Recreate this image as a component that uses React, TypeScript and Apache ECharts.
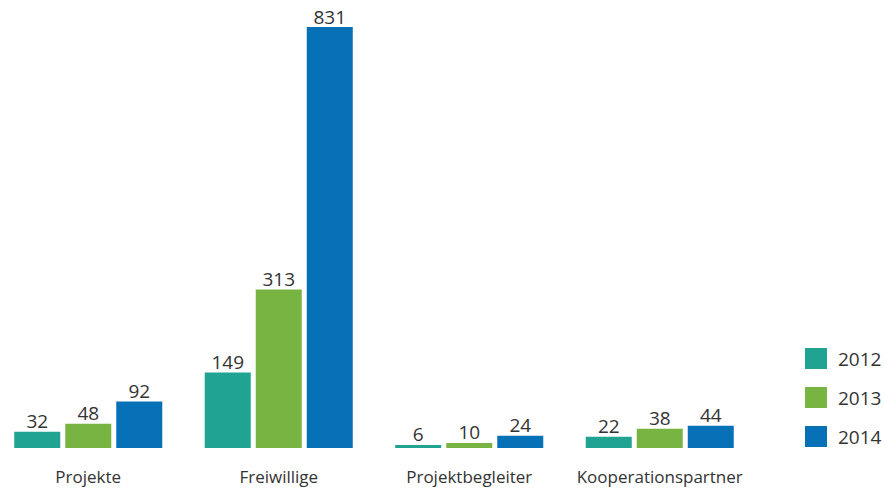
import React, { useEffect, useRef } from "react";
import * as echarts from "echarts";

const categories = ["Projekte", "Freiwillige", "Projektbegleiter", "Kooperationspartner"];
const seriesNames = ["2012", "2013", "2014"];
const values2012 = [32, 149, 6, 22];
const values2013 = [48, 313, 10, 38];
const values2014 = [92, 831, 24, 44];
const colors = ["#21a392", "#78b442", "#0671b6"];

const FONT = "Open Sans";

export default function App() {
  const ref = useRef<HTMLDivElement>(null);
  useEffect(() => {
    if (!ref.current) return;
    const chart = echarts.init(ref.current, null, { renderer: "svg" });
    const data = [values2012, values2013, values2014];
    chart.setOption({
      animation: false,
      textStyle: { fontFamily: FONT },
      grid: { left: 0, right: 130, top: 27, bottom: 42, containLabel: false },
      legend: {
        orient: "vertical",
        left: 812,
        top: 348,
        padding: 0,
        itemWidth: 22,
        itemHeight: 21,
        itemGap: 18,
        icon: "rect",
        data: seriesNames,
        textStyle: {
          fontFamily: FONT,
          fontSize: 19,
          lineHeight: 21,
          color: "#333",
          padding: [0, 0, 0, 6],
        },
      },
      xAxis: {
        type: "category",
        data: categories,
        axisLine: { show: false },
        axisTick: { show: false },
        axisLabel: { fontFamily: FONT, fontSize: 17, color: "#333", margin: 20, interval: 0 },
      },
      yAxis: {
        type: "value",
        min: 0,
        max: 831,
        show: false,
        splitLine: { show: false },
      },
      series: seriesNames.map((name, i) => ({
        name,
        type: "bar",
        data: data[i],
        barWidth: 46,
        barGap: "10.9%",
        itemStyle: { color: colors[i] },
        label: {
          show: true,
          position: "top",
          distance: 1,
          fontFamily: FONT,
          fontSize: 19,
          color: "#333",
        },
      })),
    });
    return () => chart.dispose();
  }, []);
  return (
    <div
      ref={ref}
      style={{ position: "absolute", left: -7, top: 0, width: 892, height: 490, background: "#fff" }}
    />
  );
}
